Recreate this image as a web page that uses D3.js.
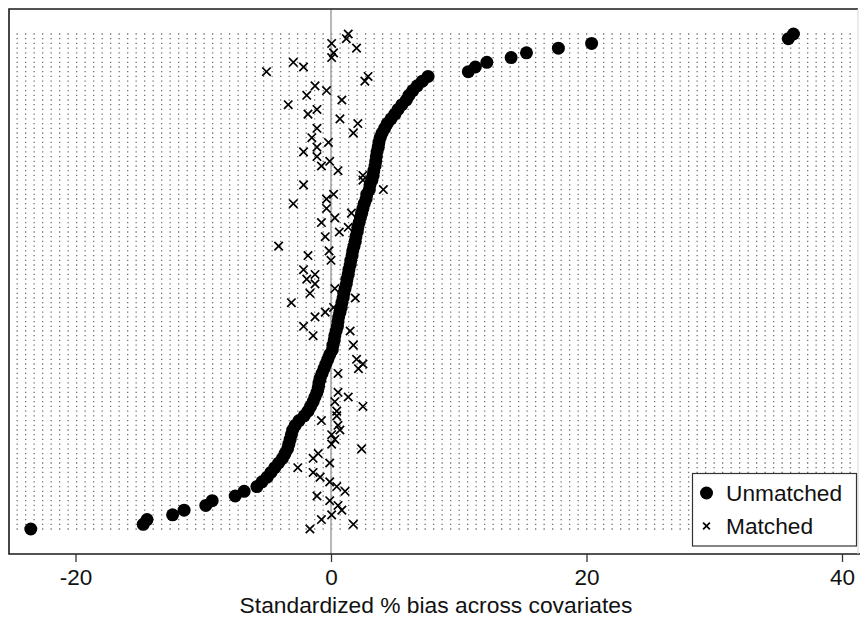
<!DOCTYPE html>
<html>
<head>
<meta charset="utf-8">
<script src="https://cdn.jsdelivr.net/npm/d3@7"></script>
<style>
  html, body { margin: 0; padding: 0; background: #fff; }
  svg { display: block; font-family: "Liberation Sans", Arial, sans-serif; }
</style>
</head>
<body>
<script>
// Standardized % bias per covariate, sorted by unmatched bias (row 0 = bottom)
const unmatched = [
  -23.5, -14.7, -14.4, -12.4, -11.5, -9.8, -9.3, -7.5, -6.8, -5.8,
  -5.4, -5.0, -4.7, -4.4, -4.1, -3.8, -3.6, -3.4, -3.3, -3.2,
  -3.1, -3.0, -2.8, -2.5, -2.1, -1.8, -1.6, -1.4, -1.25, -1.1,
  -1.0, -0.95, -0.85, -0.7, -0.55, -0.4, -0.25, -0.1, 0.1, 0.15,
  0.25, 0.3, 0.4, 0.5, 0.55, 0.6, 0.7, 0.8, 0.85, 0.95,
  1.0, 1.1, 1.2, 1.25, 1.35, 1.4, 1.5, 1.55, 1.65, 1.7,
  1.8, 1.9, 1.95, 2.05, 2.1, 2.2, 2.3, 2.4, 2.5, 2.6,
  2.75, 2.8, 3.0, 3.05, 3.2, 3.3, 3.35, 3.45, 3.5, 3.55,
  3.6, 3.7, 3.75, 3.85, 4.0, 4.2, 4.4, 4.7, 5.0, 5.25,
  5.55, 5.9, 6.1, 6.4, 6.75, 7.15, 7.6, 10.75, 11.3, 12.2,
  14.1, 15.3, 17.8, 20.4, 35.8, 36.2
];
const matched = [
  -1.65, 1.75, -0.75, 0.05, 0.85, 0.55, -0.1, -1.1, 1.1, 0.45,
  -0.1, -0.85, -1.4, -2.6, -0.1, -1.4, -1.0, 2.4, 0.05, 0.3,
  0.05, 0.7, 0.55, -0.75, 0.45, 0.45, 2.5, 0.3, 1.35, 0.55,
  -0.9, -0.8, -0.7, 0.55, 2.15, 2.5, 2.0, -0.1, 0.1, 1.75,
  0.3, -1.4, 1.5, -2.15, 0.6, -1.25, -0.45, 0.2, -3.1, 1.9,
  -1.65, 0.3, -1.25, -1.9, -1.25, -2.15, 1.5, 0.0, -1.8, -0.15,
  -4.1, 1.9, -0.45, 0.65, 1.35, -0.75, 0.3, 1.6, -0.35, -2.95,
  -0.35, 0.2, 4.1, -2.15, 2.5, 2.5, 0.55, -0.75, -0.1, -1.1,
  -2.15, -1.1, -0.2, -1.5, 1.75, -1.1, 2.1, 0.7, -1.8, -1.1,
  -3.35, 0.85, -1.9, -0.35, -1.25, 2.65, 2.9, -5.05, -2.15, -2.95,
  0.05, 0.2, 2.0, 0.05, 1.2, 1.35
];
const xTicks = [-20, 0, 20, 40];
const xTitle = "Standardized % bias across covariates";
const legendLabels = ["Unmatched", "Matched"];

const W = 860, H = 621;
const frame = { left: 9, right: 858, top: 9, bottom: 554 };

const svg = d3.select("body").append("svg").attr("width", W).attr("height", H);

const x = d3.scaleLinear().domain([-20, 40]).range([75.5, 842]);
const rows = d3.range(unmatched.length);
const y = d3.scaleLinear().domain([0, unmatched.length - 1]).range([529, 34]);

// dotted row lines
svg.append("g").selectAll("line").data(rows).join("line")
  .attr("x1", 16.5).attr("x2", 856)
  .attr("y1", d => y(d)).attr("y2", d => y(d))
  .attr("stroke", "#707070").attr("stroke-width", 1.3)
  .attr("stroke-dasharray", "1.3,7.2");

// zero reference line
svg.append("line")
  .attr("x1", x(0)).attr("x2", x(0))
  .attr("y1", frame.top).attr("y2", frame.bottom)
  .attr("stroke", "#a6a6a6").attr("stroke-width", 1.6);

// unmatched circles
svg.append("g").selectAll("circle").data(rows).join("circle")
  .attr("cx", d => x(unmatched[d])).attr("cy", d => y(d))
  .attr("r", 6.5).attr("fill", "#000");

// matched crosses
const xs = 4.2;
const cross = `M${-xs},${-xs}L${xs},${xs}M${-xs},${xs}L${xs},${-xs}`;
svg.append("g").selectAll("path").data(rows).join("path")
  .attr("d", cross)
  .attr("transform", d => `translate(${x(matched[d])},${y(d)})`)
  .attr("stroke", "#000").attr("stroke-width", 1.7).attr("fill", "none");

// frame
svg.append("path")
  .attr("d", `M${frame.right},${frame.top}H${frame.left}V${frame.bottom}H${W}`)
  .attr("fill", "none").attr("stroke", "#1a1a1a").attr("stroke-width", 1.6);
svg.append("line")
  .attr("x1", frame.right).attr("x2", frame.right)
  .attr("y1", frame.top).attr("y2", frame.bottom)
  .attr("stroke", "#d8d8d8").attr("stroke-width", 1);

// x axis
const axis = d3.axisBottom(x).tickValues(xTicks).tickSize(8).tickPadding(7).tickFormat(d => String(d));
const gAx = svg.append("g").attr("transform", `translate(0,${frame.bottom})`).call(axis);
gAx.select(".domain").remove();
gAx.selectAll(".tick line").attr("stroke", "#333").attr("stroke-width", 1.3);
gAx.selectAll(".tick text")
  .attr("fill", "#111").attr("font-size", 22.5)
  .attr("font-family", "'Liberation Sans', Arial, sans-serif");

svg.append("text")
  .attr("x", 436).attr("y", 613)
  .attr("text-anchor", "middle").attr("font-size", 22.8).attr("fill", "#111")
  .text(xTitle);

// legend
const lg = svg.append("g");
lg.append("rect")
  .attr("x", 692.5).attr("y", 473.5).attr("width", 164).attr("height", 72.5)
  .attr("fill", "#fff").attr("stroke", "#333").attr("stroke-width", 1.2);
lg.append("circle").attr("cx", 706.5).attr("cy", 493).attr("r", 6.5).attr("fill", "#000");
lg.append("path").attr("d", `M${-3.4},${-3.4}L3.4,3.4M${-3.4},3.4L3.4,${-3.4}`)
  .attr("transform", "translate(706.5,526)")
  .attr("stroke", "#000").attr("stroke-width", 1.7);
lg.append("text").attr("x", 726).attr("y", 501).attr("font-size", 22.7).attr("fill", "#111").text(legendLabels[0]);
lg.append("text").attr("x", 726).attr("y", 534).attr("font-size", 22.7).attr("fill", "#111").text(legendLabels[1]);
</script>
</body>
</html>
